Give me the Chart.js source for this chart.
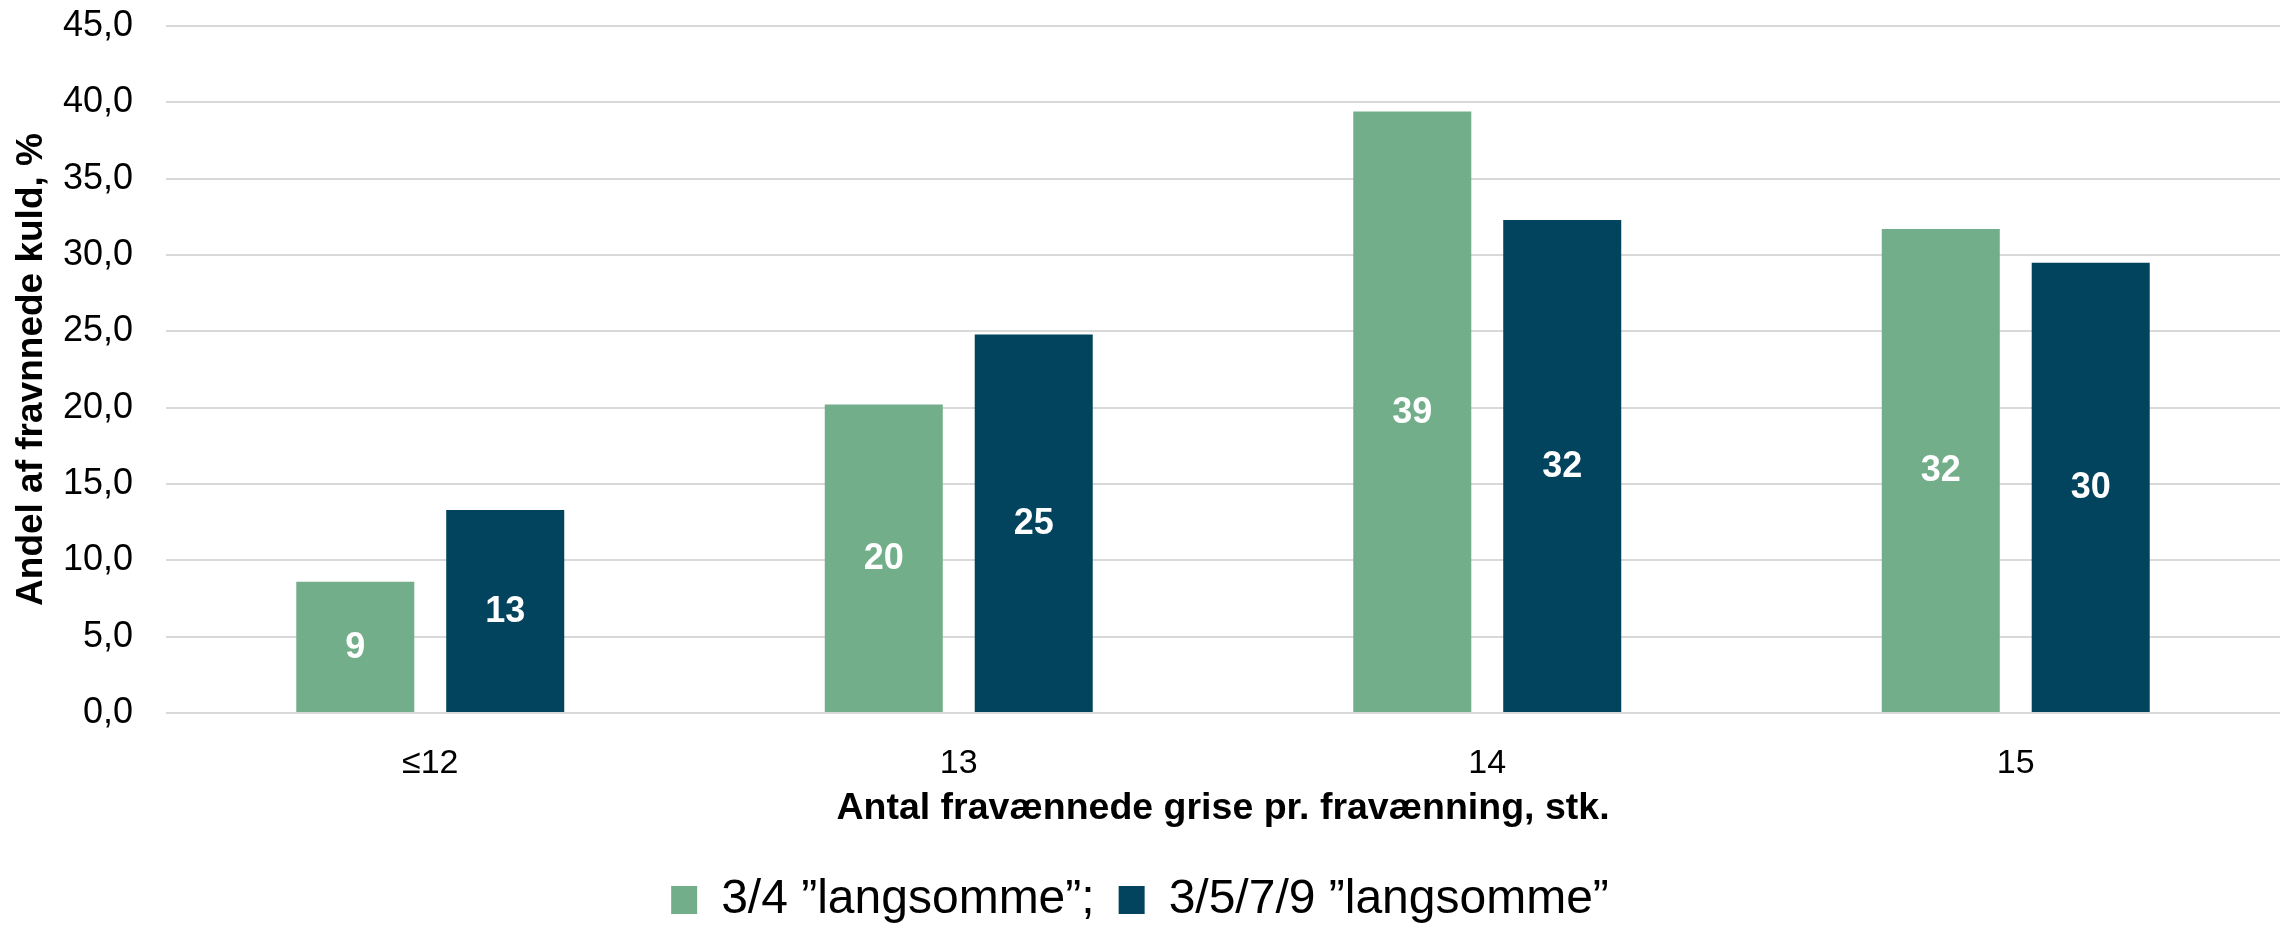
<!DOCTYPE html>
<html>
<head>
<meta charset="utf-8">
<script src="https://cdn.jsdelivr.net/npm/chart.js@4.4.1/dist/chart.umd.min.js"></script>
<style>
  html, body { margin: 0; padding: 0; background: #ffffff; }
  canvas { display: block; }
</style>
</head>
<body>
<canvas id="c" width="2293" height="927"></canvas>
<script>
const categories = ['\u226412', '13', '14', '15'];
const seriesNames = ['3/4 \u201Dlangsomme\u201D;', '3/5/7/9 \u201Dlangsomme\u201D'];
const series34 = [8.6, 20.2, 39.4, 31.7];
const series3579 = [13.3, 24.8, 32.3, 29.5];
const seriesColors = ['#73AE8A', '#02445E'];
const yTitle = 'Andel af fravnnede kuld, %';
const xTitle = 'Antal fravænnede grise pr. fravænning, stk.';
const yMin = 0, yMax = 45, yStep = 5;

const FONT = "'Liberation Sans', Arial, sans-serif";

const barLabels = {
  id: 'barLabels',
  afterDatasetsDraw(chart) {
    const ctx = chart.ctx;
    ctx.save();
    ctx.font = 'bold 36px ' + FONT;
    ctx.fillStyle = '#ffffff';
    ctx.textAlign = 'center';
    ctx.textBaseline = 'middle';
    chart.data.datasets.forEach((ds, i) => {
      const meta = chart.getDatasetMeta(i);
      meta.data.forEach((bar, j) => {
        const v = ds.data[j];
        ctx.fillText(String(Math.round(v)), bar.x, (bar.y + bar.base) / 2 + 1);
      });
    });
    ctx.restore();
  }
};

new Chart(document.getElementById('c'), {
  type: 'bar',
  data: {
    labels: categories,
    datasets: [
      { label: seriesNames[0], data: series34, backgroundColor: seriesColors[0], borderWidth: 0 },
      { label: seriesNames[1], data: series3579, backgroundColor: seriesColors[1], borderWidth: 0 }
    ]
  },
  options: {
    responsive: false,
    animation: false,
    layout: { padding: { left: 0, right: 13, top: 26, bottom: 0 } },
    datasets: { bar: { categoryPercentage: 0.5675, barPercentage: 0.787 } },
    plugins: {
      tooltip: { enabled: false },
      legend: {
        position: 'bottom',
        maxHeight: 75,
        labels: {
          font: { family: FONT, size: 48 },
          color: '#000000',
          boxWidth: 26,
          boxHeight: 28,
          padding: 24
        }
      }
    },
    scales: {
      x: {
        grid: { display: false, drawTicks: false },
        border: { display: false },
        ticks: { font: { family: FONT, size: 34 }, color: '#000000', padding: 30 },
        title: {
          display: true, text: xTitle, color: '#000000',
          font: { family: FONT, size: 37.5, weight: 'bold' },
          padding: { top: 0, bottom: 21 }
        },
        afterFit(s) { s.height = 139; s.paddingLeft = 0; s.paddingRight = 0; }
      },
      y: {
        min: yMin, max: yMax,
        grid: { color: '#d9d9d9', lineWidth: 2, drawTicks: false },
        border: { display: false },
        ticks: {
          stepSize: yStep,
          font: { family: FONT, size: 36 }, color: '#000000', padding: 33,
          callback: (v) => Number(v).toFixed(1).replace('.', ',')
        },
        title: {
          display: true, text: yTitle, color: '#000000',
          font: { family: FONT, size: 37, weight: 'bold' },
          padding: { top: 10, bottom: 0 }
        },
        afterFit(s) { s.width = 166; s.paddingTop = 0; s.paddingBottom = 0; }
      }
    }
  },
  plugins: [barLabels]
});
</script>
</body>
</html>
